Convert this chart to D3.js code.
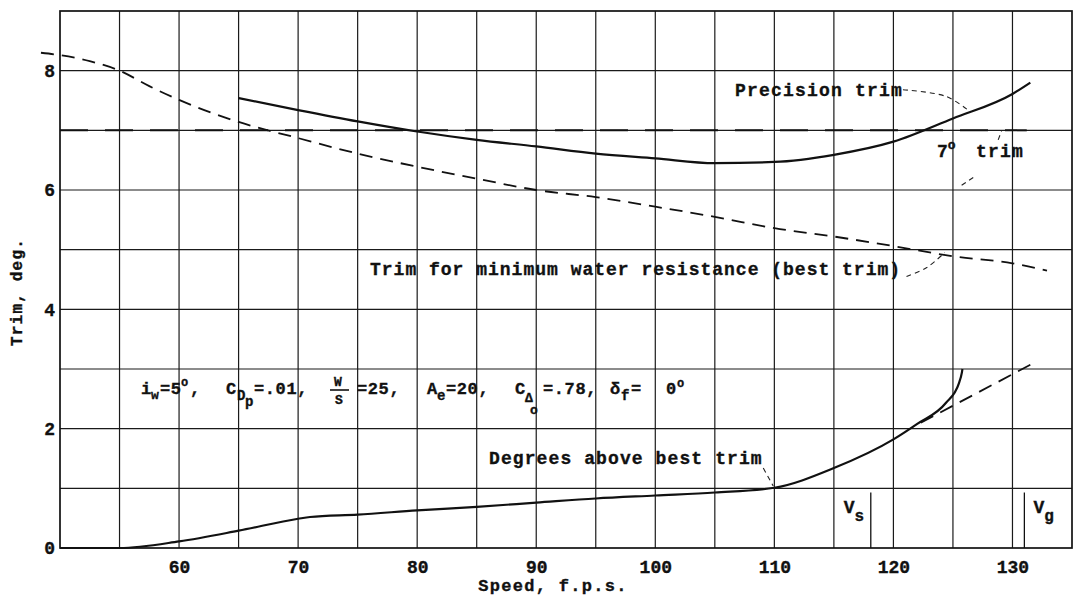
<!DOCTYPE html>
<html><head><meta charset="utf-8">
<script src="https://cdn.jsdelivr.net/npm/d3@7"></script>
<style>
body{margin:0;background:#fff}
text{font-family:"Liberation Mono","DejaVu Sans Mono",monospace;font-weight:bold;fill:#111;stroke:#111;stroke-width:0.35px}
</style>
</head><body>
<svg id="c" width="1076" height="598"></svg>
<script>
// ---- data ----
const xTicks = [60, 70, 80, 90, 100, 110, 120, 130];
const yTicks = [0, 2, 4, 6, 8];
const xLabel = "Speed, f.p.s.";
const yLabel = "Trim, deg.";

// Trim for minimum water resistance (best trim) - short dashes
const bestSpeed = [48.4, 50, 52.5, 55, 57.5, 60, 65, 70, 75, 80, 85, 90, 95, 100, 105, 110, 115, 120, 125, 130, 132.9];
const bestTrim  = [8.30, 8.26, 8.16, 8.0, 7.74, 7.51, 7.14, 6.87, 6.61, 6.39, 6.19, 6.0, 5.88, 5.72, 5.55, 5.36, 5.22, 5.06, 4.89, 4.77, 4.65];

// Precision trim - solid
const precSpeed = [65, 70, 75, 80, 85, 90, 95, 100, 105, 110, 115, 120, 125, 130, 131.5];
const precTrim  = [7.54, 7.34, 7.15, 6.98, 6.84, 6.73, 6.61, 6.53, 6.45, 6.47, 6.59, 6.81, 7.20, 7.61, 7.80];

// 7 deg trim - long dashes
const sevenSpeed = [50, 131.2];
const sevenTrim  = [7, 7];

// Degrees above best trim - solid
const degSpeed = [50, 55, 60, 65, 70, 71, 75, 80, 85, 90, 95, 100, 105, 110, 115, 120, 122, 124.4, 125.5, 125.75, 125.8];
const degTrim  = [0, 0, 0.11, 0.29, 0.49, 0.52, 0.56, 0.63, 0.69, 0.76, 0.83, 0.88, 0.93, 1.01, 1.34, 1.82, 2.08, 2.43, 2.76, 2.94, 3.0];

// dashed extension of degrees-above curve
const extSpeed = [122.3, 131.5];
const extTrim  = [2.10, 3.07];

// V_s and V_g markers
const vSpeeds = [118.1, 131.0];
const vLabels = ["s", "g"];
const vTop = 0.93;

// leader lines (speed, trim)
const leaders = [
  [[120.8, 7.68], [124.4, 7.57], [126.4, 7.32]],
  [[128.8, 6.84], [129.1, 7.0]],
  [[125.73, 6.08], [126.85, 6.23]],
  [[121.1, 4.55], [122.8, 4.70], [124.3, 4.95]],
  [[109.07, 1.34], [109.9, 1.04]]
];

// ---- chart ----
const svg = d3.select("#c");
const x = d3.scaleLinear().domain([50, 135]).range([60, 1072]);
const y = d3.scaleLinear().domain([0, 9]).range([548, 11]);

const grid = svg.append("g").attr("stroke", "#1a1a1a").attr("stroke-width", 1.2);
grid.selectAll("line.v").data(d3.range(55, 135, 5)).join("line")
  .attr("x1", d => x(d)).attr("x2", d => x(d)).attr("y1", y(0)).attr("y2", y(9));
grid.selectAll("line.h").data(d3.range(1, 9, 1)).join("line")
  .attr("y1", d => y(d)).attr("y2", d => y(d)).attr("x1", x(50)).attr("x2", x(135));
svg.append("rect").attr("x", x(50)).attr("y", y(9)).attr("width", x(135) - x(50)).attr("height", y(0) - y(9))
  .attr("fill", "none").attr("stroke", "#111").attr("stroke-width", 1.7);

// axes
const xa = svg.append("g").attr("transform", `translate(0,${y(0)})`)
  .call(d3.axisBottom(x).tickValues(xTicks).tickSize(0).tickPadding(12).tickFormat(d3.format("d")));
xa.select(".domain").remove();
xa.selectAll("text").attr("font-size", 18).attr("font-family", null).attr("fill", "#111");
const ya = svg.append("g").attr("transform", `translate(${x(50)},0)`)
  .call(d3.axisLeft(y).tickValues(yTicks).tickSize(0).tickPadding(5).tickFormat(d3.format("d")));
ya.select(".domain").remove();
ya.selectAll("text").attr("font-size", 18).attr("font-family", null).attr("fill", "#111");

svg.append("text").attr("x", 553).attr("y", 591).attr("text-anchor", "middle")
  .attr("font-size", 17).attr("letter-spacing", 1.3).text(xLabel);
svg.append("text").attr("transform", "translate(22,292) rotate(-90)").attr("text-anchor", "middle")
  .attr("font-size", 16).attr("letter-spacing", 1.2).text(yLabel);

const zip = (a, b) => a.map((v, i) => [v, b[i]]);
const line = d3.line().x(d => x(d[0])).y(d => y(d[1])).curve(d3.curveCatmullRom.alpha(0.5));
const mono = d3.line().x(d => x(d[0])).y(d => y(d[1])).curve(d3.curveMonotoneX);
const straight = d3.line().x(d => x(d[0])).y(d => y(d[1]));

svg.append("path").attr("d", mono(zip(bestSpeed, bestTrim))).attr("fill", "none")
  .attr("stroke", "#111").attr("stroke-width", 1.8).attr("stroke-dasharray", "13,8");
svg.append("path").attr("d", straight(zip(sevenSpeed, sevenTrim))).attr("fill", "none")
  .attr("stroke", "#111").attr("stroke-width", 2).attr("stroke-dasharray", "28,17");
svg.append("path").attr("d", mono(zip(precSpeed, precTrim))).attr("fill", "none")
  .attr("stroke", "#111").attr("stroke-width", 2.2);
svg.append("path").attr("d", mono(zip(degSpeed, degTrim))).attr("fill", "none")
  .attr("stroke", "#111").attr("stroke-width", 2.2);
svg.append("path").attr("d", straight(zip(extSpeed, extTrim))).attr("fill", "none")
  .attr("stroke", "#111").attr("stroke-width", 1.8).attr("stroke-dasharray", "14,8");

svg.selectAll("path.leader").data(leaders).join("path").attr("class", "leader")
  .attr("d", d => line(d)).attr("fill", "none").attr("stroke", "#222")
  .attr("stroke-width", 1.1).attr("stroke-dasharray", "5,4");

// V markers
svg.selectAll("line.vm").data(vSpeeds).join("line").attr("class", "vm")
  .attr("x1", d => x(d)).attr("x2", d => x(d)).attr("y1", y(vTop)).attr("y2", y(0))
  .attr("stroke", "#111").attr("stroke-width", 1.3);
const vt = svg.selectAll("text.vl").data(vSpeeds).join("text").attr("class", "vl")
  .attr("x", (d, i) => i === 0 ? x(d) - 27 : x(d) + 9).attr("y", 513).attr("font-size", 18);
vt.append("tspan").text("V");
vt.append("tspan").attr("dy", 8).attr("font-size", 16).text((d, i) => vLabels[i]);

// annotations
const ann = (tx, ty, s, fs, ls) => svg.append("text").attr("x", tx).attr("y", ty)
  .attr("font-size", fs).attr("letter-spacing", ls).text(s);
ann(735, 96, "Precision trim", 18, 1.2);
ann(370, 275, "Trim for minimum water resistance (best trim)", 18, 1.0);
ann(489, 464, "Degrees above best trim", 18, 1.1);
const s7 = svg.append("text").attr("x", 937).attr("y", 157).attr("font-size", 18);
s7.append("tspan").text("7");
s7.append("tspan").attr("dy", -8).attr("font-size", 13).text("o");
s7.append("tspan").attr("x", 976).attr("dy", 8).attr("letter-spacing", 1.2).text("trim");

// parameter line
const P = (tx, ty, s, fs) => svg.append("text").attr("x", tx).attr("y", ty)
  .attr("font-size", fs || 17).attr("letter-spacing", 0.6).text(s);
P(141, 394, "i");
P(151, 399, "w", 13);
P(160, 394, "=5");
P(181, 386, "o", 12);
P(190, 394, ",");
P(226, 394, "C");
P(237, 400, "D", 14);
P(245, 406, "p", 14);
P(254, 394, "=.01,");
P(334, 386, "W", 13);
svg.append("line").attr("x1", 330).attr("x2", 349).attr("y1", 390).attr("y2", 390)
  .attr("stroke", "#111").attr("stroke-width", 1.6);
P(335, 404, "S", 13);
P(357, 394, "=25,");
P(427, 394, "A");
P(437, 400, "e", 14);
P(446, 394, "=20,");
P(515, 394, "C");
P(525, 402, "\u0394", 13);
P(530, 414, "o", 13);
P(543, 394, "=.78,");
P(610, 394, "\u03b4");
P(621, 400, "f", 14);
P(631, 394, "=");
P(666, 394, "0");
P(677, 387, "o", 12);
</script>
</body></html>
